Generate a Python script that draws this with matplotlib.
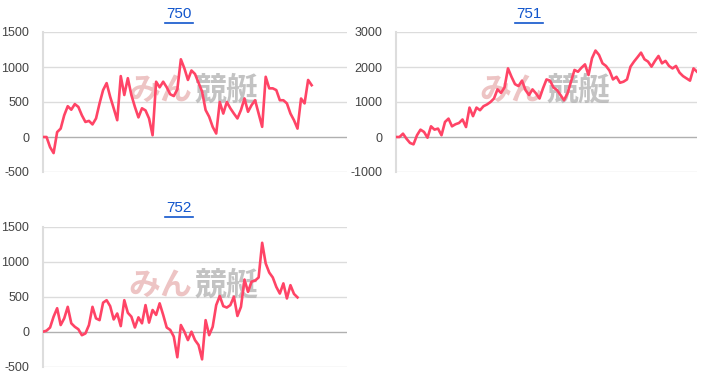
import matplotlib
matplotlib.use("Agg")
import matplotlib.pyplot as plt
import numpy as np
from matplotlib.lines import Line2D

plt.rcParams['font.family'] = ['Liberation Sans', 'Noto Sans CJK JP', 'DejaVu Sans']

titles = ["750", "751", "752"]

s750 = [0, 0, -145, -230, 70, 120, 310, 440, 390, 470, 430, 310, 215, 230, 180, 265,
        480, 670, 770, 575, 410, 240, 870, 600, 840, 600, 430, 280, 410, 380, 265, 25,
        790, 710, 790, 710, 610, 585, 680, 1110, 980, 815, 950, 900, 775, 650, 385, 290,
        145, 50, 500, 335, 500, 410, 335, 265, 385, 550, 360, 455, 525, 335, 145, 860,
        695, 695, 670, 525, 525, 480, 335, 240, 120, 550, 480, 815, 740]

s751 = [0, 0, 95, -50, -170, -210, 50, 210, 145, -20, 305, 210, 240, 50, 430, 525,
        305, 365, 400, 500, 285, 840, 595, 840, 765, 880, 930, 1000, 1100, 1360, 1260,
        1415, 1960, 1720, 1510, 1455, 1610, 1340, 1200, 1360, 1245, 1100, 1390, 1645,
        1610, 1415, 1340, 1200, 1050, 1245, 1580, 1915, 1865, 1980, 2075, 1770, 2250,
        2470, 2345, 2105, 2030, 1895, 1645, 1720, 1550, 1580, 1645, 2010, 2155, 2280,
        2410, 2220, 2155, 2010, 2175, 2315, 2105, 2175, 2030, 1960, 2030, 1840, 1740,
        1675, 1610, 1960, 1865]

s752 = [0, 15, 60, 215, 335, 95, 190, 355, 120, 70, 35, -50, -25, 95, 355, 190, 165,
        415, 450, 365, 175, 260, 80, 450, 270, 215, 60, 205, 120, 380, 130, 310, 240,
        405, 240, 60, 25, -70, -365, 95, 0, -120, 0, -120, -190, -395, 165, -50, 70,
        380, 510, 365, 345, 380, 500, 225, 355, 745, 570, 715, 730, 775, 1270, 975, 845,
        775, 640, 545, 690, 475, 665, 540, 490]

series = [s750, s751, s752]
yticks = [[-500, 0, 500, 1000, 1500], [-1000, 0, 1000, 2000, 3000], [-500, 0, 500, 1000, 1500]]

W, H = 703, 391
fig = plt.figure(figsize=(W / 100, H / 100), dpi=100)

# axes boxes in pixels: left, top, right, bottom
boxes = [(43, 32, 347, 172), (396, 32, 697, 172), (43, 226.7, 347, 366.7)]
title_pos = [(179, 14), (529, 14), (179, 208.5)]

line_color = "#ff4466"
n_max = len(s751)

for i, (vals, ticks, box) in enumerate(zip(series, yticks, boxes)):
    l, t, r, b = box
    ax = fig.add_axes([l / W, 1 - b / H, (r - l) / W, (b - t) / H])
    x = np.arange(len(vals))
    ax.set_xlim(0, n_max - 1)
    ax.set_ylim(ticks[0], ticks[-1])
    ax.set_yticks(ticks)
    ax.set_yticklabels([str(v) for v in ticks])
    ax.set_xticks([])
    for v in ticks:
        ax.axhline(v, color="#b0b0b0" if v == 0 else "#dcdcdc", lw=1.0, zorder=1)
    for s in ["top", "right", "bottom"]:
        ax.spines[s].set_visible(False)
    ax.spines["left"].set_color("#dddddd")
    ax.spines["left"].set_linewidth(1.5)
    ax.tick_params(axis="y", length=0, pad=10, labelsize=9, labelcolor="#444444")

    # watermark
    ax.text(0.49, 0.58, "みん", transform=ax.transAxes, ha="right", va="center",
            fontsize=23, fontweight="bold", color="#e8b0b0", alpha=0.75,
            family=["Noto Sans CJK JP"], zorder=2)
    ax.text(0.50, 0.58, "競艇", transform=ax.transAxes, ha="left", va="center",
            fontsize=23, fontweight="bold", color="#b4b4b4", alpha=0.8,
            family=["Noto Sans CJK JP"], zorder=2)

    ax.plot(x, vals, color=line_color, lw=1.9, solid_joinstyle="round", zorder=3)

    tx, ty = title_pos[i]
    fig.text(tx / W, 1 - ty / H, titles[i], ha="center", va="center",
             fontsize=11, color="#1155cc")
    fig.add_artist(Line2D([(tx - 14) / W, (tx + 14) / W],
                          [1 - (ty + 8.5) / H, 1 - (ty + 8.5) / H],
                          color="#1155cc", lw=1.2))

fig.savefig("out.png", dpi=100)
